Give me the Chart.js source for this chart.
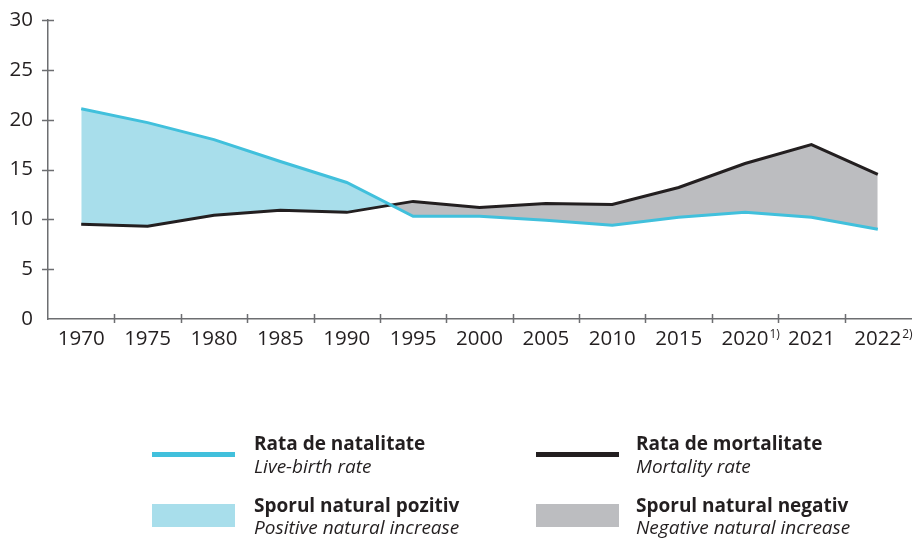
<!DOCTYPE html>
<html>
<head>
<meta charset="utf-8">
<script src="https://cdn.jsdelivr.net/npm/chart.js@4.4.1/dist/chart.umd.min.js"></script>
<style>
  html, body { margin: 0; padding: 0; background: #ffffff; }
  #wrap { position: relative; width: 916px; height: 540px; overflow: hidden; font-family: "Open Sans", sans-serif; color: #231f20; }
  #wrap canvas { position: absolute; left: 0; top: 0; }
  .sw { position: absolute; }
  .t { position: absolute; white-space: nowrap; font-size: 19px; line-height: 22px; }
  .b { font-weight: 700; }
  .i { font-style: italic; }
</style>
</head>
<body>
<div id="wrap">
  <canvas id="c" width="916" height="540"></canvas>
  <div class="sw" style="left:152px;top:452px;width:83px;height:5px;background:#41c0dc"></div>
  <div class="t b" style="left:254px;top:432px">Rata de natalitate</div>
  <div class="t i" style="left:254px;top:455px">Live-birth rate</div>
  <div class="sw" style="left:152px;top:504px;width:83px;height:23px;background:#a8deeb"></div>
  <div class="t b" style="left:254px;top:494px">Sporul natural pozitiv</div>
  <div class="t i" style="left:254px;top:516px">Positive natural increase</div>

  <div class="sw" style="left:536px;top:452px;width:83px;height:5px;background:#231f20"></div>
  <div class="t b" style="left:636px;top:432px">Rata de mortalitate</div>
  <div class="t i" style="left:636px;top:455px">Mortality rate</div>
  <div class="sw" style="left:536px;top:504px;width:83px;height:23px;background:#bcbdc0"></div>
  <div class="t b" style="left:636px;top:494px">Sporul natural negativ</div>
  <div class="t i" style="left:636px;top:516px">Negative natural increase</div>
</div>
<script>
const years = ['1970','1975','1980','1985','1990','1995','2000','2005','2010','2015','2020','2021','2022'];
const footnotes = ['','','','','','','','','','','1)','','2)'];
const birthRate = [21.1, 19.7, 18.0, 15.8, 13.7, 10.3, 10.3, 9.9, 9.4, 10.2, 10.7, 10.2, 9.0];
const mortalityRate = [9.5, 9.3, 10.4, 10.9, 10.7, 11.8, 11.2, 11.6, 11.5, 13.2, 15.6, 17.5, 14.5];
const yMin = 0, yMax = 30, yStep = 5;

const AXIS_COLOR = '#6d6e71';
const TEXT_COLOR = '#231f20';
const TICK_FONT_SIZE = 20.5;

const tickMarks = {
  id: 'tickMarks',
  afterDraw(chart) {
    const ctx = chart.ctx;
    const xs = chart.scales.x, ys = chart.scales.y;
    const area = chart.chartArea;
    ctx.save();
    ctx.strokeStyle = AXIS_COLOR;
    ctx.lineWidth = 1.5;
    ctx.beginPath();
    for (let i = 1; i < years.length; i++) {
      const x = Math.round((xs.getPixelForValue(i - 1) + xs.getPixelForValue(i)) / 2) + 0.5;
      ctx.moveTo(x, area.bottom - 5);
      ctx.lineTo(x, area.bottom + 4);
    }
    for (let v = yMin + yStep; v <= yMax; v += yStep) {
      const y = Math.round(ys.getPixelForValue(v)) + 0.5;
      ctx.moveTo(area.left - 6, y);
      ctx.lineTo(area.left + 6, y);
    }
    ctx.stroke();
    ctx.fillStyle = TEXT_COLOR;
    ctx.textBaseline = 'alphabetic';
    ctx.textAlign = 'left';
    for (let i = 0; i < years.length; i++) {
      if (!footnotes[i]) continue;
      ctx.font = TICK_FONT_SIZE + 'px "Open Sans"';
      const w = ctx.measureText(years[i]).width;
      const x = xs.getPixelForValue(i) + w / 2 + 1;
      ctx.font = '12px "Open Sans"';
      ctx.fillText(footnotes[i], x, area.bottom + 19);
    }
    ctx.restore();
  }
};

new Chart(document.getElementById('c'), {
  type: 'line',
  data: {
    labels: years,
    datasets: [
      {
        label: 'Rata de natalitate',
        data: birthRate,
        borderColor: '#41c0dc',
        borderWidth: 3,
        pointRadius: 0,
        tension: 0,
        fill: { target: 1, above: '#a8deeb', below: '#bcbdc0' }
      },
      {
        label: 'Rata de mortalitate',
        data: mortalityRate,
        borderColor: '#231f20',
        borderWidth: 3,
        pointRadius: 0,
        tension: 0,
        fill: false
      }
    ]
  },
  options: {
    responsive: false,
    animation: false,
    events: [],
    layout: { padding: { left: 0, right: 5, top: 20, bottom: 181 } },
    plugins: {
      legend: { display: false },
      tooltip: { enabled: false },
      filler: { drawTime: 'beforeDatasetsDraw' }
    },
    scales: {
      x: {
        offset: true,
        grid: { display: false, drawTicks: false },
        border: { display: true, color: AXIS_COLOR, width: 1.5 },
        ticks: { color: TEXT_COLOR, font: { family: 'Open Sans', size: TICK_FONT_SIZE }, padding: 8, maxRotation: 0, autoSkip: false },
        afterFit(s) { s.height = 40; s.paddingLeft = 0; s.paddingRight = 0; }
      },
      y: {
        min: yMin, max: yMax,
        grid: { display: false, drawTicks: false },
        border: { display: true, color: AXIS_COLOR, width: 1.5 },
        ticks: { stepSize: yStep, color: TEXT_COLOR, font: { family: 'Open Sans', size: TICK_FONT_SIZE }, padding: 15 },
        afterFit(s) { s.width = 48; s.paddingTop = 0; s.paddingBottom = 0; }
      }
    }
  },
  plugins: [tickMarks]
});
</script>
</body>
</html>
